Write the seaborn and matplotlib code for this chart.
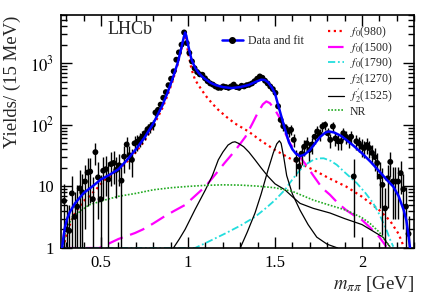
import numpy as np
import pandas as pd
import matplotlib
matplotlib.use("Agg")
import matplotlib.pyplot as plt
from matplotlib.lines import Line2D
from matplotlib.ticker import FixedLocator, FixedFormatter, MultipleLocator, LogLocator, NullFormatter
import seaborn as sns

# ---------------- data: binned yields (15 MeV bins) ----------------
bin_start = 0.2875
bin_width = 0.015
yields = [
    5.8, 2.0, 1.9, 7.7, 3.2, 4.7, 9.3, 8.0, 12, 16.8, 17.4, 6.2, 36, 14, 6.2, 18, 19, 13, 23, 24, 18.5, 22,
    12.4, 30.5, 48, 32, 27, 50, 53, 58, 64, 73, 85, 92, 100, 158, 175, 213,
    275, 340, 440, 560, 740, 1140, 1500, 2000, 3160,
    2130, 1470, 1070, 830, 720, 660, 650, 570, 510, 470, 450, 420, 400, 400, 420, 410, 400, 420, 450, 410,
    400, 430, 420, 440, 450, 470, 510, 560, 610, 580, 520, 470, 420, 380, 330,
    200, 120, 95, 88, 78, 83, 57, 27, 21,
    34, 44, 50, 39, 48, 64, 78, 70, 94, 100, 73, 57, 94, 60, 54, 54, 73, 64, 57, 64, 14.5, 54, 50, 44,
    42, 47, 42, 35, 30, 24, 14.5, 10.6, 4.4, 13.5, 25, 12, 12, 12, 16.4, 9, 4.7, 1.7,
]
errors = [
    5, 3, 3, 7, 5, 6, 9, 8, 10, 12, 12, 8, 14, 11, 9, 12, 12, 12, 13, 13, 12, 12,
    12, 14, 15, 13, 13, 15, 15, 15, 16, 16, 17, 18, 18, 20, 22, 24,
    25, 28, 32, 35, 40, 50, 55, 65, 80,
    60, 50, 45, 40, 38, 36, 35, 34, 33, 32, 32, 31, 31, 31, 31, 31, 31, 31, 31, 31,
    31, 31, 31, 32, 32, 32, 33, 34, 35, 34, 33, 32, 31, 30, 28,
    22, 18, 16, 16, 15, 15, 14, 12, 12,
    12, 13, 14, 13, 14, 15, 16, 15, 17, 17, 16, 15, 17, 15, 15, 15, 16, 15, 15, 15, 13, 15, 14, 14,
    13, 14, 13, 12, 12, 11, 10, 9, 5, 9, 11, 9, 9, 9, 9, 7, 5, 1.6,
]
mass = np.round(bin_start + bin_width * np.arange(len(yields)), 4)

# ---------------- total fit ----------------
fit_m = [0.276, 0.285, 0.293, 0.305, 0.32, 0.35, 0.40, 0.45, 0.50, 0.55, 0.60, 0.65, 0.70, 0.75, 0.80,
         0.85, 0.88, 0.91, 0.94, 0.96, 0.975, 0.983, 0.99, 1.00, 1.01, 1.02, 1.04, 1.06, 1.08, 1.10,
         1.13, 1.16, 1.20, 1.25, 1.30, 1.35, 1.39, 1.42, 1.44, 1.46, 1.48, 1.50, 1.52, 1.54, 1.56,
         1.58, 1.60, 1.62, 1.644, 1.67, 1.70, 1.73, 1.76, 1.79, 1.81, 1.84, 1.88, 1.91, 1.95, 2.00,
         2.05, 2.10, 2.14, 2.18, 2.21, 2.24, 2.255, 2.266, 2.276]
fit_y = [1.0, 1.6, 2.2, 3.0, 3.8, 5.3, 7.8, 10, 13, 15.5, 19, 27, 40, 62, 105,
         200, 320, 550, 1000, 1700, 2600, 3150, 2800, 2000, 1500, 1150, 850, 700, 610, 550,
         480, 440, 410, 395, 410, 445, 500, 540, 535, 490, 410, 320, 200, 125, 80,
         52, 40, 34, 31, 33, 39, 50, 64, 75, 78, 75, 66, 57, 46, 34.5,
         25, 17.5, 13, 9.9, 7, 4.1, 2.8, 1.7, 1.0]

# ---------------- components ----------------
f0980_m = [0.285, 0.293, 0.31, 0.33, 0.35, 0.40, 0.43, 0.48, 0.52, 0.57, 0.62, 0.66, 0.70, 0.75, 0.80,
           0.85, 0.88, 0.91, 0.94, 0.96, 0.975, 0.982, 0.99, 1.00, 1.02, 1.04, 1.07, 1.10, 1.14, 1.174,
           1.22, 1.27, 1.347, 1.42, 1.50, 1.60, 1.72, 1.81, 1.91, 2.00, 2.10, 2.16, 2.21, 2.24]
f0980_y = [1.0, 1.35, 2.0, 2.8, 3.7, 5.8, 6.8, 9.5, 12.7, 16, 21, 27, 36, 55, 95,
           180, 290, 500, 950, 1600, 2500, 2900, 2400, 1500, 800, 540, 400, 300, 220, 175,
           135, 105, 78, 55, 39, 27, 18.6, 13.6, 9.9, 6.8, 4.1, 2.8, 1.7, 1.05]

f01500_m = [0.28, 0.49, 0.55, 0.60, 0.695, 0.74, 0.80, 0.86, 0.92, 0.983, 1.04, 1.10, 1.16, 1.21, 1.27,
            1.33, 1.37, 1.40, 1.43, 1.45, 1.47, 1.50, 1.53, 1.56, 1.586, 1.62, 1.644, 1.68, 1.72,
            1.77, 1.816, 1.86, 1.91, 1.96, 2.00, 2.05, 2.10, 2.14]
f01500_y = [1.0, 1.0, 1.2, 1.4, 1.75, 2.0, 2.5, 3.2, 4.0, 5.0, 7, 10, 16, 24, 38,
            64, 105, 155, 215, 240, 225, 175, 125, 72, 50, 36, 30, 22, 15,
            9.5, 7.3, 5.4, 4.1, 3.3, 2.85, 2.1, 1.5, 1.05]

f01790_m = [0.28, 1.04, 1.10, 1.21, 1.30, 1.385, 1.45, 1.50, 1.557, 1.60, 1.644, 1.68, 1.72, 1.75,
            1.78, 1.82, 1.855, 1.90, 1.97, 2.02, 2.065, 2.10, 2.14, 2.16, 2.18]
f01790_y = [1.0, 1.0, 1.2, 1.7, 2.3, 3.2, 4.5, 6.0, 8.8, 13, 18.6, 23, 27, 28.5,
            28.6, 26, 22.4, 17, 11.3, 7.8, 5.3, 3.5, 2.0, 1.4, 1.05]

f21270_m = [0.916, 0.95, 0.983, 1.04, 1.10, 1.14, 1.174, 1.20, 1.23, 1.255, 1.27, 1.29, 1.32, 1.35,
            1.385, 1.42, 1.46, 1.50, 1.557, 1.60, 1.644, 1.72, 1.816, 1.90, 2.00, 2.06, 2.12, 2.16]
f21270_y = [1.0, 1.4, 2.0, 4.2, 8.8, 15, 27, 36, 47, 52, 53, 50, 44, 36,
            27, 20, 14.5, 11, 8.8, 6.8, 5.3, 4.4, 3.7, 3.0, 2.4, 1.9, 1.5, 1.05]

f21525_m = [1.30, 1.34, 1.385, 1.42, 1.46, 1.49, 1.51, 1.525, 1.535, 1.55, 1.567, 1.60, 1.644, 1.69,
            1.74, 1.80, 1.86]
f21525_y = [1.0, 1.8, 3.7, 7.5, 18.6, 35, 49, 55, 50, 30, 15, 7.5, 4.1, 2.4,
            1.5, 1.15, 1.0]

nr_m = [0.285, 0.293, 0.31, 0.35, 0.43, 0.52, 0.60, 0.70, 0.80, 0.90, 1.00, 1.10, 1.20, 1.30, 1.40,
        1.50, 1.60, 1.72, 1.80, 1.91, 2.00, 2.046, 2.10, 2.16]
nr_y = [1.0, 1.75, 2.4, 3.4, 5.0, 6.0, 6.9, 7.7, 8.8, 9.5, 10, 10.4, 10.6, 10.5, 10.1,
        9.5, 8.3, 6.0, 5.1, 4.1, 3.1, 2.5, 1.8, 1.05]

comp_labels = [r"$f_0$(980)", r"$f_0$(1500)", r"$f_0$(1790)", r"$f_2$(1270)", r"$f_2^{\prime}$(1525)", "NR"]

# ---------------- style ----------------
sns.set_theme(style="ticks")
plt.rcParams["font.family"] = ["Liberation Serif", "DejaVu Serif"]
plt.rcParams["mathtext.fontset"] = "stix"

fig = plt.figure(figsize=(4.36, 2.97), dpi=100)
ax = fig.add_axes([0.140, 0.165, 0.810, 0.785])
ax.set_yscale("log")

styles = [
    (f0980_m, f0980_y, dict(color="#ff0000", lw=1.6, linestyle=(0, (1, 1.6)))),
    (f01500_m, f01500_y, dict(color="#ff00ff", lw=1.6, linestyle=(0, (7, 3.5)))),
    (f01790_m, f01790_y, dict(color="#22dddd", lw=1.3, linestyle=(0, (4, 1.5, 1, 1.5)))),
    (f21270_m, f21270_y, dict(color="black", lw=0.9, linestyle="-")),
    (f21525_m, f21525_y, dict(color="black", lw=0.9, linestyle="-")),
    (nr_m, nr_y, dict(color="#22aa22", lw=1.2, linestyle=(0, (1, 1)))),
]
handles = []
for (mx, my, kw), lab in zip(styles, comp_labels):
    df = pd.DataFrame({"m": mx, "y": my})
    sns.lineplot(data=df, x="m", y="y", ax=ax, estimator=None, sort=False, **kw)
    handles.append(Line2D([], [], **kw, label=lab))

# data points with error bars
ydat = np.array(yields, dtype=float)
edat = np.array(errors, dtype=float)
lower = np.minimum(edat, ydat * 0.999)
ax.errorbar(mass, ydat, yerr=[lower, edat], fmt="none", ecolor="black", elinewidth=1.0, capsize=0, zorder=4)
sns.scatterplot(x=mass, y=ydat, ax=ax, color="black", s=18, edgecolor="none", zorder=5)

# total fit
dff = pd.DataFrame({"m": fit_m, "y": fit_y})
sns.lineplot(data=dff, x="m", y="y", ax=ax, estimator=None, sort=False, color="#0000ff", lw=1.8, zorder=6)

ax.set_xlim(0.27, 2.30)
ax.set_ylim(1, 6100)

ax.xaxis.set_major_locator(FixedLocator([0.5, 1.0, 1.5, 2.0]))
ax.xaxis.set_major_formatter(FixedFormatter(["0.5", "1", "1.5", "2"]))
ax.xaxis.set_minor_locator(MultipleLocator(0.1))
ax.yaxis.set_major_locator(FixedLocator([1, 10, 100, 1000]))
ax.yaxis.set_major_formatter(FixedFormatter(["1", "10", r"$10^2$", r"$10^3$"]))
ax.yaxis.set_minor_locator(LogLocator(base=10, subs=np.arange(2, 10)))
ax.yaxis.set_minor_formatter(NullFormatter())
ax.tick_params(which="both", direction="in", top=True, right=True, width=1.0, colors="black",
               labelsize=12, pad=5)
ax.tick_params(which="major", length=8)
ax.tick_params(which="minor", length=4)
for sp in ax.spines.values():
    sp.set_linewidth(1.2)
    sp.set_color("black")

ax.set_xlabel(r"$m_{\pi\pi}$ [GeV]", fontsize=13.5, loc="right", labelpad=2)
ax.set_ylabel("")
fig.text(12 / 436, 1 - 16 / 297, "Yields/ (15 MeV)", rotation=90, fontsize=13.5, ha="center", va="top")

ax.text(0.133, 0.936, "LHCb", transform=ax.transAxes, fontsize=13, ha="left", va="center")

leg1 = ax.legend(handles=[Line2D([], [], color="#0000ff", lw=1.8, marker="o", markersize=4,
                                 markerfacecolor="black", markeredgecolor="black", label="Data and fit")],
                 loc="center left", bbox_to_anchor=(0.455, 0.888), frameon=False, fontsize=8.5,
                 handlelength=1.8, handletextpad=0.4, borderpad=0, borderaxespad=0)
ax.add_artist(leg1)
ax.legend(handles=handles, loc="upper left", bbox_to_anchor=(0.755, 0.958), frameon=False, fontsize=8.5,
          handlelength=1.4, handletextpad=0.5, labelspacing=0.02, borderpad=0, borderaxespad=0)

fig.savefig("out.png", dpi=100)
